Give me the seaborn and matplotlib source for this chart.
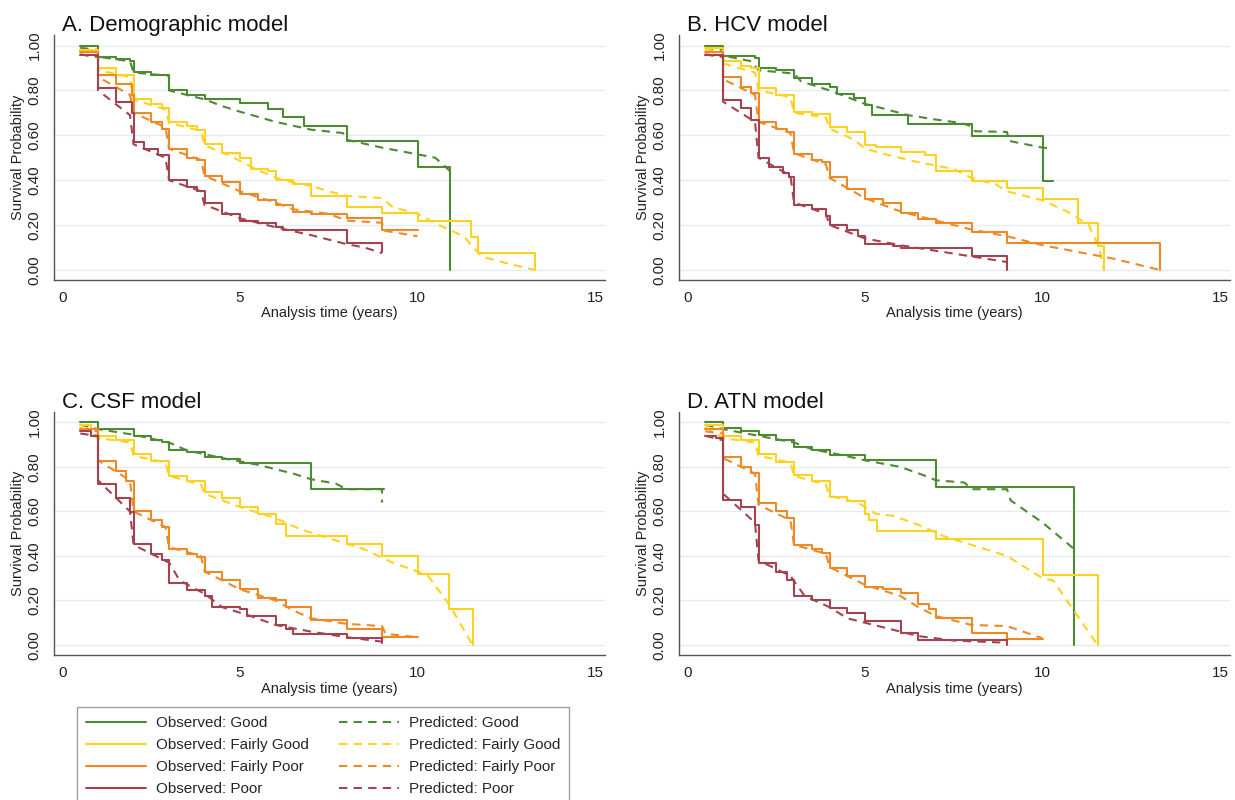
import matplotlib
matplotlib.use("Agg")
import matplotlib.pyplot as plt
import seaborn as sns

# observed curves: (time where the level starts, survival level); drawn as steps
# predicted curves: (time, survival) joined by straight segments

# A. Demographic model
demo_obs_good = [(0.5, 1.00), (1.0, 0.95), (1.5, 0.94), (1.9, 0.93), (2.0, 0.88), (2.5, 0.87), (3.0, 0.80),
                 (3.5, 0.78), (4.0, 0.76), (5.0, 0.745), (5.8, 0.715), (6.2, 0.68), (6.8, 0.64), (8.0, 0.575),
                 (10.0, 0.46), (10.92, 0.0)]
demo_pred_good = [(0.5, 0.99), (1.0, 0.98), (1.0, 0.95), (1.9, 0.93), (2.0, 0.88), (3.0, 0.865), (3.0, 0.80),
                  (4.0, 0.76), (4.5, 0.73), (5.0, 0.705), (6.0, 0.66), (7.0, 0.625), (7.9, 0.61), (8.0, 0.58),
                  (9.0, 0.545), (10.0, 0.515), (10.5, 0.50), (10.92, 0.44)]
demo_obs_fgood = [(0.5, 0.98), (1.0, 0.90), (1.5, 0.87), (2.0, 0.76), (2.5, 0.74), (2.8, 0.72), (3.0, 0.66),
                  (3.5, 0.64), (3.8, 0.625), (4.0, 0.56), (4.5, 0.52), (5.0, 0.50), (5.3, 0.45), (5.8, 0.44),
                  (6.0, 0.40), (6.5, 0.385), (7.0, 0.33), (8.0, 0.28), (9.0, 0.255), (10.0, 0.22),
                  (11.5, 0.145), (11.7, 0.075), (13.3, 0.0)]
demo_pred_fgood = [(0.5, 0.98), (1.0, 0.97), (1.0, 0.89), (1.9, 0.86), (2.0, 0.76), (2.9, 0.715), (3.0, 0.655),
                   (3.9, 0.62), (4.0, 0.555), (4.7, 0.51), (5.5, 0.445), (6.2, 0.40), (7.0, 0.375), (7.5, 0.35),
                   (8.0, 0.33), (9.0, 0.32), (9.3, 0.28), (10.0, 0.25), (10.6, 0.20), (11.3, 0.15),
                   (11.8, 0.06), (12.5, 0.03), (13.3, 0.0)]
demo_obs_fpoor = [(0.5, 0.97), (1.0, 0.87), (1.5, 0.83), (1.95, 0.78), (2.0, 0.70), (2.5, 0.66), (2.8, 0.63),
                  (3.0, 0.54), (3.5, 0.50), (3.8, 0.49), (4.0, 0.42), (4.5, 0.39), (5.0, 0.34), (5.5, 0.31),
                  (6.0, 0.29), (6.5, 0.26), (7.0, 0.25), (8.0, 0.23), (9.0, 0.18), (10.0, 0.18)]
demo_pred_fpoor = [(0.5, 0.96), (1.0, 0.95), (1.0, 0.86), (1.9, 0.78), (2.0, 0.70), (2.9, 0.635), (3.0, 0.54),
                   (3.9, 0.49), (4.0, 0.42), (5.0, 0.35), (6.0, 0.30), (6.5, 0.27), (7.5, 0.25), (8.0, 0.22),
                   (9.0, 0.21), (9.05, 0.175), (10.0, 0.15)]
demo_obs_poor = [(0.5, 0.96), (1.0, 0.81), (1.5, 0.75), (1.95, 0.70), (2.0, 0.57), (2.3, 0.54), (2.7, 0.51),
                 (3.0, 0.40), (3.5, 0.37), (3.8, 0.35), (4.0, 0.30), (4.5, 0.25), (5.0, 0.22), (5.5, 0.21),
                 (6.0, 0.19), (6.2, 0.18), (8.0, 0.12), (9.0, 0.08)]
demo_pred_poor = [(0.5, 0.96), (1.0, 0.95), (1.0, 0.80), (1.9, 0.69), (2.0, 0.56), (2.9, 0.50), (3.0, 0.40),
                  (3.9, 0.35), (4.0, 0.29), (5.0, 0.23), (6.0, 0.19), (7.0, 0.155), (8.0, 0.115), (8.5, 0.10),
                  (9.0, 0.075)]

# B. HCV model
hcv_obs_good = [(0.5, 1.00), (1.0, 0.955), (1.9, 0.945), (2.0, 0.90), (2.5, 0.89), (3.0, 0.855), (3.5, 0.83),
                (4.0, 0.815), (4.2, 0.785), (4.7, 0.765), (5.0, 0.735), (5.2, 0.69), (6.2, 0.65), (8.0, 0.595),
                (10.0, 0.395), (10.3, 0.395)]
hcv_pred_good = [(0.5, 0.99), (1.0, 0.98), (1.0, 0.955), (1.8, 0.93), (2.0, 0.89), (3.0, 0.875), (3.2, 0.84),
                 (4.0, 0.80), (4.5, 0.77), (5.0, 0.74), (5.5, 0.72), (6.2, 0.69), (7.0, 0.67), (7.7, 0.655),
                 (8.0, 0.64), (8.1, 0.618), (9.0, 0.615), (9.05, 0.575), (10.0, 0.545), (10.3, 0.54)]
hcv_obs_fgood = [(0.5, 0.99), (1.0, 0.93), (1.5, 0.91), (1.8, 0.90), (2.0, 0.81), (2.5, 0.78), (3.0, 0.705),
                 (3.5, 0.693), (4.0, 0.637), (4.5, 0.615), (5.0, 0.555), (5.3, 0.547), (6.0, 0.525), (6.7, 0.51),
                 (7.0, 0.442), (8.0, 0.397), (9.0, 0.367), (10.0, 0.315), (11.0, 0.207), (11.55, 0.105),
                 (11.73, 0.0)]
hcv_pred_fgood = [(0.5, 0.98), (1.0, 0.97), (1.0, 0.92), (1.9, 0.88), (2.0, 0.80), (2.9, 0.77), (3.0, 0.70),
                  (3.9, 0.68), (4.0, 0.63), (4.7, 0.58), (5.0, 0.54), (5.7, 0.51), (6.5, 0.48), (7.5, 0.45),
                  (8.0, 0.41), (8.7, 0.38), (9.0, 0.35), (10.0, 0.31), (10.7, 0.26), (11.3, 0.20),
                  (11.6, 0.10), (11.73, 0.0)]
hcv_obs_fpoor = [(0.5, 0.97), (1.0, 0.862), (1.5, 0.817), (1.8, 0.787), (2.0, 0.66), (2.5, 0.63), (2.8, 0.615),
                 (3.0, 0.517), (3.5, 0.49), (3.8, 0.48), (4.0, 0.412), (4.5, 0.36), (5.0, 0.318), (5.5, 0.30),
                 (6.0, 0.255), (6.5, 0.225), (7.0, 0.21), (8.0, 0.168), (9.0, 0.12), (13.3, 0.0)]
hcv_pred_fpoor = [(0.5, 0.96), (1.0, 0.95), (1.0, 0.85), (1.9, 0.78), (2.0, 0.66), (2.9, 0.61), (3.0, 0.52),
                  (3.9, 0.47), (4.0, 0.41), (5.0, 0.32), (6.0, 0.26), (7.0, 0.22), (8.0, 0.18), (9.0, 0.15),
                  (10.0, 0.11), (11.0, 0.08), (12.0, 0.05), (13.3, 0.0)]
hcv_obs_poor = [(0.5, 0.96), (1.0, 0.757), (1.5, 0.72), (1.8, 0.667), (2.0, 0.498), (2.3, 0.46), (2.7, 0.43),
                (2.85, 0.412), (3.0, 0.288), (3.5, 0.27), (3.9, 0.24), (4.0, 0.202), (4.5, 0.18), (4.8, 0.15),
                (5.0, 0.115), (5.8, 0.108), (6.0, 0.097), (8.0, 0.063), (9.0, 0.0)]
hcv_pred_poor = [(0.5, 0.96), (1.0, 0.95), (1.0, 0.75), (1.9, 0.66), (2.0, 0.50), (2.9, 0.42), (3.0, 0.30),
                 (3.9, 0.25), (4.0, 0.20), (5.0, 0.14), (6.0, 0.11), (7.0, 0.085), (8.0, 0.06), (9.0, 0.035)]

# C. CSF model
csf_obs_good = [(0.5, 1.00), (1.0, 0.97), (2.0, 0.94), (2.5, 0.92), (2.8, 0.91), (3.0, 0.876), (3.5, 0.865),
                (4.0, 0.843), (4.5, 0.835), (5.0, 0.82), (7.0, 0.70), (9.05, 0.70)]
csf_pred_good = [(0.5, 0.99), (1.0, 0.97), (2.0, 0.945), (3.0, 0.91), (3.5, 0.875), (4.5, 0.84), (5.5, 0.81),
                 (6.5, 0.77), (7.0, 0.745), (7.7, 0.725), (8.0, 0.70), (9.0, 0.70), (9.0, 0.64)]
csf_obs_fgood = [(0.5, 0.99), (0.8, 0.97), (1.0, 0.94), (1.5, 0.92), (2.0, 0.858), (2.5, 0.828), (3.0, 0.761),
                 (3.5, 0.739), (4.0, 0.687), (4.5, 0.66), (5.0, 0.622), (5.5, 0.59), (6.0, 0.545), (6.3, 0.488),
                 (8.0, 0.455), (9.0, 0.40), (10.0, 0.32), (10.9, 0.16), (11.55, 0.0)]
csf_pred_fgood = [(0.5, 0.98), (1.0, 0.93), (1.9, 0.91), (2.0, 0.85), (2.9, 0.82), (3.0, 0.76), (3.9, 0.72),
                  (4.0, 0.68), (5.0, 0.62), (6.0, 0.57), (6.7, 0.52), (7.5, 0.48), (8.5, 0.43), (9.3, 0.37),
                  (10.0, 0.33), (10.3, 0.31), (10.9, 0.18), (11.55, 0.0)]
csf_obs_fpoor = [(0.5, 0.97), (1.0, 0.828), (1.5, 0.78), (1.8, 0.739), (2.0, 0.604), (2.5, 0.56), (2.8, 0.53),
                 (3.0, 0.433), (3.5, 0.41), (3.8, 0.396), (4.0, 0.328), (4.5, 0.29), (5.0, 0.25), (5.5, 0.209),
                 (6.0, 0.20), (6.3, 0.172), (7.0, 0.112), (8.0, 0.07), (9.0, 0.034), (10.0, 0.034)]
csf_pred_fpoor = [(0.5, 0.97), (1.0, 0.96), (1.0, 0.83), (1.9, 0.74), (2.0, 0.60), (2.9, 0.53), (3.0, 0.44),
                  (3.9, 0.40), (4.0, 0.33), (5.0, 0.25), (6.0, 0.20), (6.5, 0.155), (7.0, 0.12), (8.0, 0.095),
                  (9.0, 0.085), (9.1, 0.05), (10.0, 0.035)]
csf_obs_poor = [(0.5, 0.96), (0.8, 0.94), (1.0, 0.724), (1.5, 0.66), (1.9, 0.597), (2.0, 0.455), (2.5, 0.41),
                (2.8, 0.38), (3.0, 0.28), (3.5, 0.246), (4.0, 0.22), (4.2, 0.169), (5.0, 0.16), (5.2, 0.13),
                (6.0, 0.09), (6.3, 0.07), (6.5, 0.048), (8.0, 0.03), (9.0, 0.01)]
csf_pred_poor = [(0.5, 0.95), (1.0, 0.94), (1.0, 0.74), (1.9, 0.60), (2.0, 0.45), (3.0, 0.37), (3.3, 0.29),
                 (4.0, 0.23), (4.5, 0.17), (5.3, 0.13), (6.0, 0.09), (7.0, 0.06), (8.0, 0.035), (9.0, 0.015)]

# D. ATN model
atn_obs_good = [(0.5, 1.00), (1.0, 0.973), (1.5, 0.96), (2.0, 0.943), (2.5, 0.92), (3.0, 0.888), (3.5, 0.875),
                (4.0, 0.854), (5.0, 0.831), (7.0, 0.712), (10.9, 0.0)]
atn_pred_good = [(0.5, 0.99), (1.0, 0.97), (2.0, 0.94), (3.0, 0.91), (3.5, 0.88), (4.3, 0.855), (5.0, 0.83),
                 (6.0, 0.80), (6.7, 0.76), (7.0, 0.74), (7.8, 0.73), (8.0, 0.70), (9.0, 0.70), (9.1, 0.65),
                 (10.0, 0.55), (10.9, 0.43)]
atn_obs_fgood = [(0.5, 0.99), (1.0, 0.94), (1.5, 0.92), (2.0, 0.86), (2.5, 0.824), (3.0, 0.764), (3.5, 0.737),
                 (4.0, 0.667), (4.5, 0.648), (5.0, 0.59), (5.1, 0.56), (5.35, 0.51), (7.0, 0.476), (10.0, 0.316),
                 (11.55, 0.0)]
atn_pred_fgood = [(0.5, 0.98), (1.0, 0.93), (1.9, 0.91), (2.0, 0.85), (2.9, 0.82), (3.0, 0.76), (3.9, 0.72),
                  (4.0, 0.67), (4.8, 0.64), (5.3, 0.59), (5.8, 0.58), (6.5, 0.54), (7.2, 0.49), (8.0, 0.45),
                  (9.0, 0.40), (9.5, 0.35), (10.0, 0.30), (10.3, 0.29), (10.9, 0.15), (11.55, 0.0)]
atn_obs_fpoor = [(0.5, 0.97), (1.0, 0.846), (1.5, 0.80), (1.8, 0.775), (2.0, 0.637), (2.5, 0.60), (2.8, 0.57),
                 (3.0, 0.45), (3.5, 0.43), (3.8, 0.413), (4.0, 0.346), (4.5, 0.31), (5.0, 0.26), (5.5, 0.25),
                 (6.0, 0.235), (6.5, 0.182), (6.8, 0.16), (7.0, 0.122), (8.0, 0.052), (9.0, 0.025), (10.0, 0.025)]
atn_pred_fpoor = [(0.5, 0.96), (1.0, 0.95), (1.0, 0.84), (1.9, 0.77), (2.0, 0.63), (2.9, 0.56), (3.0, 0.45),
                  (3.9, 0.41), (4.0, 0.35), (5.0, 0.27), (6.0, 0.22), (6.5, 0.17), (7.0, 0.13), (8.0, 0.09),
                  (9.0, 0.085), (10.0, 0.03)]
atn_obs_poor = [(0.5, 0.94), (0.8, 0.93), (1.0, 0.652), (1.5, 0.62), (1.9, 0.537), (2.0, 0.369), (2.5, 0.33),
                (2.8, 0.29), (3.0, 0.22), (3.5, 0.20), (4.0, 0.167), (4.5, 0.145), (5.0, 0.11), (6.0, 0.055),
                (6.5, 0.021), (9.0, 0.0)]
atn_pred_poor = [(0.5, 0.94), (1.0, 0.92), (1.0, 0.68), (1.9, 0.55), (2.0, 0.38), (2.9, 0.31), (3.3, 0.22),
                 (4.0, 0.17), (4.5, 0.12), (5.5, 0.08), (6.5, 0.04), (7.5, 0.02), (9.0, 0.01)]

groups = ["Good", "Fairly Good", "Fairly Poor", "Poor"]
colors = ["#4e8a34", "#ffd21f", "#ee8a25", "#a3434f"]
titles = ["A. Demographic model", "B. HCV model", "C. CSF model", "D. ATN model"]
y_ticks = [0.0, 0.2, 0.4, 0.6, 0.8, 1.0]
y_tick_labels = ["0.00", "0.20", "0.40", "0.60", "0.80", "1.00"]
x_ticks = [0, 5, 10, 15]

panels = [
    ([demo_obs_good, demo_obs_fgood, demo_obs_fpoor, demo_obs_poor],
     [demo_pred_good, demo_pred_fgood, demo_pred_fpoor, demo_pred_poor]),
    ([hcv_obs_good, hcv_obs_fgood, hcv_obs_fpoor, hcv_obs_poor],
     [hcv_pred_good, hcv_pred_fgood, hcv_pred_fpoor, hcv_pred_poor]),
    ([csf_obs_good, csf_obs_fgood, csf_obs_fpoor, csf_obs_poor],
     [csf_pred_good, csf_pred_fgood, csf_pred_fpoor, csf_pred_poor]),
    ([atn_obs_good, atn_obs_fgood, atn_obs_fpoor, atn_obs_poor],
     [atn_pred_good, atn_pred_fgood, atn_pred_fpoor, atn_pred_poor]),
]

sns.set_style("white")
plt.rcParams["font.family"] = ["Liberation Sans", "DejaVu Sans"]

W, H = 1235, 800
fig = plt.figure(figsize=(W / 100, H / 100), dpi=100)

# axes boxes in pixels: left, top, right, bottom
boxes = [(54, 35, 605, 280), (679, 35, 1230, 280), (54, 412, 605, 655), (679, 412, 1230, 655)]
dash = (0, (4, 3))

for i, (box, (obs, pred)) in enumerate(zip(boxes, panels)):
    l, t, r, b = box
    ax = fig.add_axes([l / W, 1 - b / H, (r - l) / W, (b - t) / H])
    for g, c, o, p in zip(groups, colors, obs, pred):
        sns.lineplot(x=[v[0] for v in o], y=[v[1] for v in o], ax=ax, color=c, lw=1.5,
                     estimator=None, sort=False, drawstyle="steps-post", legend=False,
                     label="Observed: " + g)
        sns.lineplot(x=[v[0] for v in p], y=[v[1] for v in p], ax=ax, color=c, lw=1.5,
                     estimator=None, sort=False, linestyle=dash, legend=False,
                     label="Predicted: " + g)
    ax.set_xlim(-0.24, 15.28)
    ax.set_ylim(-0.045, 1.047)
    ax.set_xticks(x_ticks)
    ax.set_xticklabels([str(v) for v in x_ticks])
    ax.set_yticks(y_ticks)
    ax.set_yticklabels(y_tick_labels, rotation=90, va="center")
    ax.tick_params(direction="out", length=4, width=1, color="#555555", labelsize=11,
                   labelcolor="#222222")
    ax.tick_params(axis="y", pad=5)
    ax.tick_params(axis="x", pad=4)
    ax.yaxis.grid(True, color="#e3edf1", lw=1)
    ax.xaxis.grid(False)
    ax.set_axisbelow(True)
    for s in ["top", "right"]:
        ax.spines[s].set_visible(False)
    for s in ["left", "bottom"]:
        ax.spines[s].set_color("#555555")
        ax.spines[s].set_linewidth(1)
    ax.set_xlabel("Analysis time (years)", fontsize=10.5, labelpad=1, color="#222222")
    ax.set_ylabel("Survival Probability", fontsize=10.5, labelpad=2, color="#222222")
    ax.set_title(titles[i], loc="left", x=0.014, pad=3, fontsize=16, color="#111111")
    if i == 0:
        handles, labels = ax.get_legend_handles_labels()

# observed in the first column, predicted in the second
order = [0, 2, 4, 6, 1, 3, 5, 7]
leg = fig.legend([handles[k] for k in order], [labels[k] for k in order],
                 loc="upper left", bbox_to_anchor=(77 / W, 1 - 707 / H), ncol=2,
                 frameon=True, fancybox=False, edgecolor="#888888", fontsize=11,
                 handlelength=3.9, handletextpad=0.65, columnspacing=2.0,
                 labelspacing=0.52, borderpad=0.6, borderaxespad=0)
leg.get_frame().set_linewidth(1)

fig.savefig("out.png", dpi=100)
